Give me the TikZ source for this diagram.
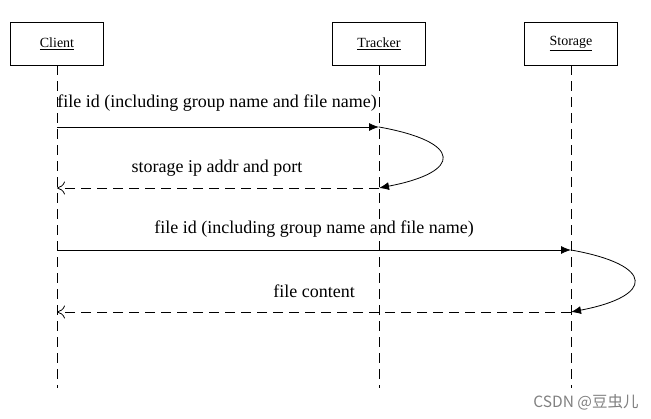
\documentclass[tikz,border=0pt]{standalone}
\usepackage{fontspec}
\setmainfont{Liberation Serif}
\newfontfamily\cjk{Noto Sans CJK SC}
\usetikzlibrary{arrows.meta}

\begin{document}
\begin{tikzpicture}[x=1pt, y=-1pt,
  actor/.style={draw, thick, minimum width=93pt, minimum height=43pt, inner sep=0pt, font=\fontsize{14}{16}\selectfont},
  lifeline/.style={draw, thick, dash pattern=on 10pt off 6pt},
  msg/.style={draw, thick, -{Latex[length=10pt,width=8pt]}},
  reply/.style={draw, thick, dash pattern=on 10pt off 6pt, -{To[length=8pt,width=13pt]}},
  lbl/.style={font=\fontsize{18}{21}\selectfont, inner sep=0pt}]
\useasboundingbox (0,0) rectangle (651,419);
% actors
\node[actor] (Client) at (57,43.5) {\underline{Client}};
\node[actor] (Tracker) at (379,43.5) {\underline{Tracker}};
\node[actor] (Storage) at (571,43.5) {\underline{Storage}};
% lifelines
\coordinate (C0) at (57,388);
\coordinate (T0) at (379,388);
\coordinate (S0) at (571,388);
\draw[lifeline] (Client.south) -- (C0);
\draw[lifeline] (Tracker.south) -- (T0);
\draw[lifeline] (Storage.south) -- (S0);
% message points
\coordinate (C1) at (57,127);
\coordinate (T1) at (379,127);
\coordinate (C2) at (57,188);
\coordinate (T2) at (379,188);
\coordinate (C3) at (57,250);
\coordinate (S3) at (571,250);
\coordinate (C4) at (57,312);
\coordinate (S4) at (571,312);
% ask the tracker
\draw[msg] (C1) -- (T1);
\node[lbl] (M1) at (217,103) {file id (including group name and file name)};
\draw[msg] (T1) .. controls (463,142) and (463,172) .. (T2);
\draw[reply] (T2) -- (C2);
\node[lbl] (M2) at (217,168) {storage ip addr and port};
% ask the storage
\draw[msg] (C3) -- (S3);
\node[lbl] (M3) at (314,229) {file id (including group name and file name)};
\draw[msg] (S3) .. controls (655,265) and (655,296) .. (S4);
\draw[reply] (S4) -- (C4);
\node[lbl] (M4) at (314,291) {file content};
\node[font=\cjk\fontsize{15.5}{18}\selectfont, text=black!50, inner sep=0pt] (Mark) at (586,402) {CSDN @豆虫儿};
\end{tikzpicture}
\end{document}
